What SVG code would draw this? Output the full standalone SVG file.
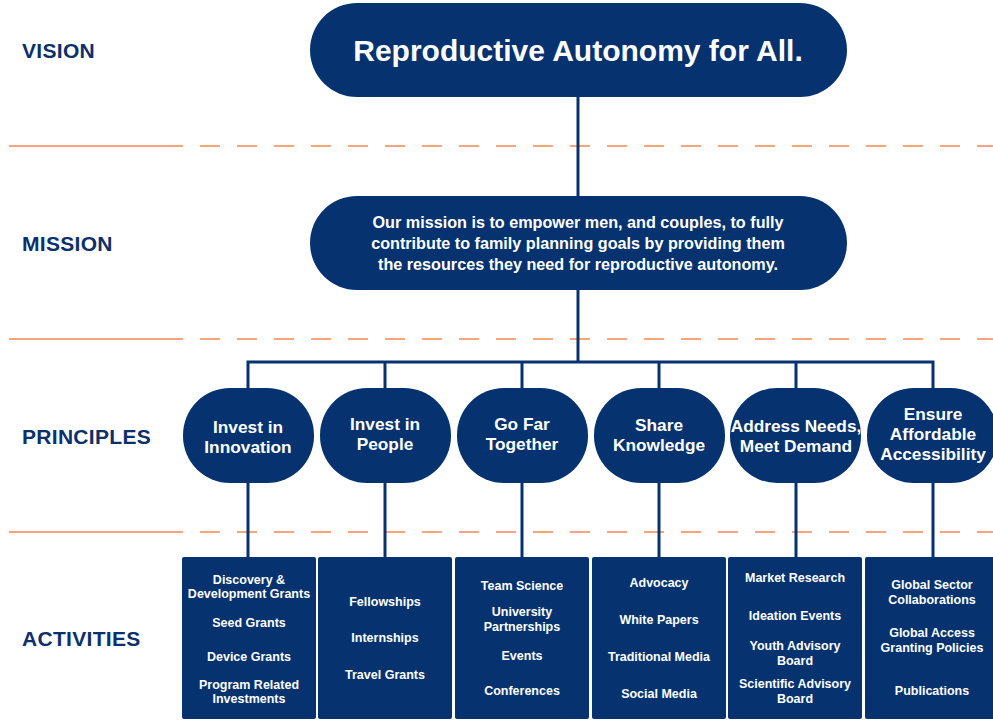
<svg xmlns="http://www.w3.org/2000/svg" width="993" height="721" viewBox="0 0 993 721">
<style>
.bg{fill:#ffffff}
.node{fill:#06336f}
.lbl{font-family:"Liberation Sans",Arial,sans-serif;font-weight:bold;font-size:21px;fill:#0b306b;letter-spacing:0.3px}
.t{font-family:"Liberation Sans",Arial,sans-serif;font-weight:bold;fill:#ffffff;text-anchor:middle}
.vis{font-size:30px}
.mis{font-size:16.2px}
.pr{font-size:17.3px}
.ac{font-size:12.5px}
.dash{stroke:#f6a57c;stroke-width:2;fill:none}
.conn{stroke:#06336f;stroke-width:3;fill:none}
</style>
<rect class="bg" x="0" y="0" width="993" height="721"/>
<g id="separators">
<g transform="translate(0,146)">
<line class="dash" x1="9" y1="0" x2="183" y2="0"/>
<line class="dash" x1="200" y1="0" x2="993" y2="0" stroke-dasharray="20 17"/>
</g>
<g transform="translate(0,339)">
<line class="dash" x1="9" y1="0" x2="183" y2="0"/>
<line class="dash" x1="200" y1="0" x2="993" y2="0" stroke-dasharray="20 17"/>
</g>
<g transform="translate(0,532)">
<line class="dash" x1="9" y1="0" x2="183" y2="0"/>
<line class="dash" x1="200" y1="0" x2="993" y2="0" stroke-dasharray="20 17"/>
</g>
</g>
<g id="row-labels">
<text class="lbl" x="22" y="58">VISION</text>
<text class="lbl" x="22" y="251">MISSION</text>
<text class="lbl" x="22" y="444">PRINCIPLES</text>
<text class="lbl" x="22" y="646">ACTIVITIES</text>
</g>
<g id="connectors">
<line class="conn" x1="578" y1="95" x2="578" y2="198"/>
<line class="conn" x1="578" y1="288" x2="578" y2="362"/>
<polyline class="conn" points="248,390 248,362 933,362 933,390"/>
<line class="conn" x1="385" y1="362" x2="385" y2="390"/>
<line class="conn" x1="522" y1="362" x2="522" y2="390"/>
<line class="conn" x1="659" y1="362" x2="659" y2="390"/>
<line class="conn" x1="796" y1="362" x2="796" y2="390"/>
<line class="conn" x1="248" y1="482" x2="248" y2="558"/>
<line class="conn" x1="385" y1="482" x2="385" y2="558"/>
<line class="conn" x1="522" y1="482" x2="522" y2="558"/>
<line class="conn" x1="659" y1="482" x2="659" y2="558"/>
<line class="conn" x1="796" y1="482" x2="796" y2="558"/>
<line class="conn" x1="933" y1="482" x2="933" y2="558"/>
</g>
<g id="vision">
<rect class="node" x="310" y="3" width="537" height="94" rx="47"/>
<text class="t vis" x="578" y="61">Reproductive Autonomy for All.</text>
</g>
<g id="mission">
<rect class="node" x="310" y="196" width="537" height="94" rx="47"/>
<text class="t mis" x="578" y="228">Our mission is to empower men, and couples, to fully</text>
<text class="t mis" x="578" y="249">contribute to family planning goals by providing them</text>
<text class="t mis" x="578" y="270">the resources they need for reproductive autonomy.</text>
</g>
<g id="p1">
<rect class="node" x="183" y="388" width="131" height="95" rx="47"/>
<text class="t pr" x="248" y="433">Invest in</text>
<text class="t pr" x="248" y="453">Innovation</text>
</g>
<g id="p2">
<rect class="node" x="320" y="388" width="131" height="95" rx="47"/>
<text class="t pr" x="385" y="430">Invest in</text>
<text class="t pr" x="385" y="450">People</text>
</g>
<g id="p3">
<rect class="node" x="457" y="388" width="131" height="95" rx="47"/>
<text class="t pr" x="522" y="430">Go Far</text>
<text class="t pr" x="522" y="450">Together</text>
</g>
<g id="p4">
<rect class="node" x="594" y="388" width="131" height="95" rx="47"/>
<text class="t pr" x="659" y="431">Share</text>
<text class="t pr" x="659" y="451">Knowledge</text>
</g>
<g id="p5">
<rect class="node" x="730" y="388" width="131" height="95" rx="47"/>
<text class="t pr" x="796" y="432">Address Needs,</text>
<text class="t pr" x="796" y="452">Meet Demand</text>
</g>
<g id="p6">
<rect class="node" x="867" y="388" width="131" height="95" rx="47"/>
<text class="t pr" x="933" y="420">Ensure</text>
<text class="t pr" x="933" y="440">Affordable</text>
<text class="t pr" x="933" y="460">Accessibility</text>
</g>
<g id="a1">
<rect class="node" x="182" y="557" width="134" height="162" rx="2"/>
<text class="t ac" x="249" y="584">Discovery &amp;</text>
<text class="t ac" x="249" y="598">Development Grants</text>
<text class="t ac" x="249" y="627">Seed Grants</text>
<text class="t ac" x="249" y="661">Device Grants</text>
<text class="t ac" x="249" y="689">Program Related</text>
<text class="t ac" x="249" y="703">Investments</text>
</g>
<g id="a2">
<rect class="node" x="318" y="557" width="134" height="162" rx="2"/>
<text class="t ac" x="385" y="606">Fellowships</text>
<text class="t ac" x="385" y="642">Internships</text>
<text class="t ac" x="385" y="679">Travel Grants</text>
</g>
<g id="a3">
<rect class="node" x="455" y="557" width="134" height="162" rx="2"/>
<text class="t ac" x="522" y="590">Team Science</text>
<text class="t ac" x="522" y="616">University</text>
<text class="t ac" x="522" y="631">Partnerships</text>
<text class="t ac" x="522" y="660">Events</text>
<text class="t ac" x="522" y="695">Conferences</text>
</g>
<g id="a4">
<rect class="node" x="592" y="557" width="134" height="162" rx="2"/>
<text class="t ac" x="659" y="587">Advocacy</text>
<text class="t ac" x="659" y="624">White Papers</text>
<text class="t ac" x="659" y="661">Traditional Media</text>
<text class="t ac" x="659" y="698">Social Media</text>
</g>
<g id="a5">
<rect class="node" x="728" y="557" width="134" height="162" rx="2"/>
<text class="t ac" x="795" y="582">Market Research</text>
<text class="t ac" x="795" y="620">Ideation Events</text>
<text class="t ac" x="795" y="650">Youth Advisory</text>
<text class="t ac" x="795" y="665">Board</text>
<text class="t ac" x="795" y="688">Scientific Advisory</text>
<text class="t ac" x="795" y="703">Board</text>
</g>
<g id="a6">
<rect class="node" x="865" y="557" width="134" height="162" rx="2"/>
<text class="t ac" x="932" y="589">Global Sector</text>
<text class="t ac" x="932" y="604">Collaborations</text>
<text class="t ac" x="932" y="637">Global Access</text>
<text class="t ac" x="932" y="652">Granting Policies</text>
<text class="t ac" x="932" y="695">Publications</text>
</g>
</svg>
